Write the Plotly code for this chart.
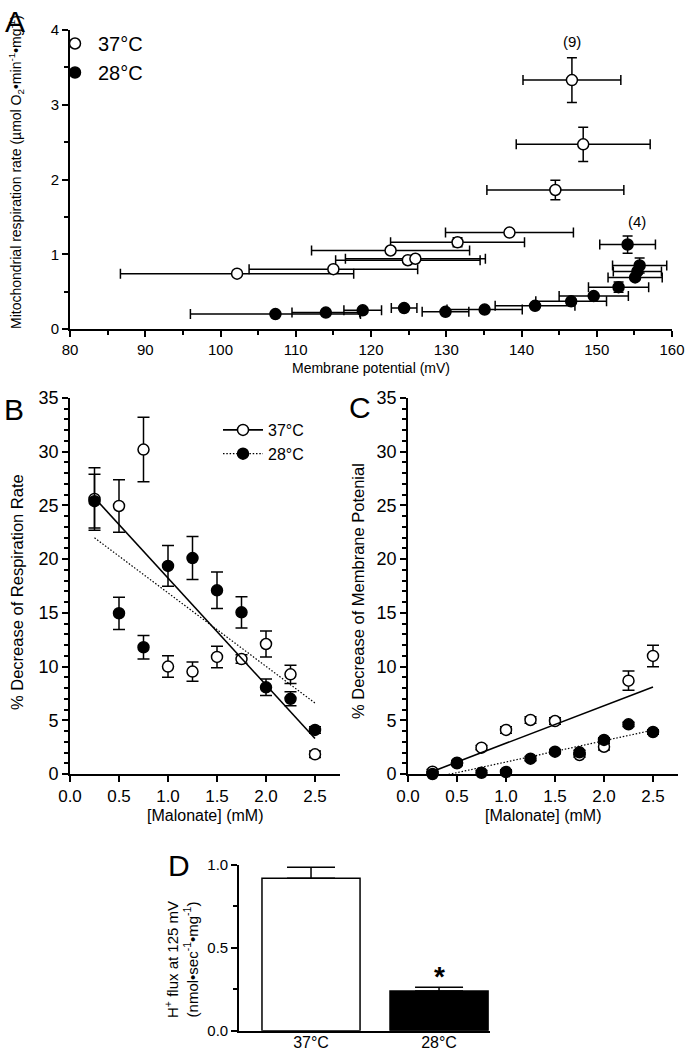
import numpy as np
import plotly.graph_objects as go

# ---------------- data ----------------
# Panel A: membrane potential (mV) vs respiration rate
mv_37 = [102.2, 115.0, 122.6, 124.9, 125.9, 131.5, 138.4, 144.5, 148.2, 146.7]
mv_37_sem = [15.5, 11.2, 10.5, 9.6, 9.3, 8.9, 8.5, 9.1, 8.9, 6.5]
rate_37 = [0.74, 0.80, 1.05, 0.92, 0.94, 1.16, 1.29, 1.86, 2.47, 3.33]
rate_37_sem = [0.03, 0.03, 0.03, 0.02, 0.02, 0.06, 0.03, 0.13, 0.23, 0.30]

mv_28 = [107.3, 114.0, 118.9, 124.4, 129.9, 135.1, 141.8, 146.6, 149.6, 152.9, 155.1, 155.4, 155.7, 154.1]
mv_28_sem = [11.3, 4.5, 2.5, 1.7, 3.1, 5.0, 5.3, 4.7, 4.6, 4.0, 3.6, 3.2, 3.6, 3.7]
rate_28 = [0.20, 0.22, 0.25, 0.28, 0.23, 0.26, 0.31, 0.37, 0.44, 0.56, 0.69, 0.77, 0.85, 1.13]
rate_28_sem = [0.02, 0.02, 0.02, 0.02, 0.02, 0.02, 0.03, 0.03, 0.03, 0.07, 0.03, 0.03, 0.10, 0.115]

n_labels = ["(9)", "(4)"]
n_label_x = [146.7, 155.4]
n_label_y = [3.84, 1.435]

# Panels B and C: malonate titration
malonate = [0.25, 0.5, 0.75, 1.0, 1.25, 1.5, 1.75, 2.0, 2.25, 2.5]
resp_37 = [25.6, 24.95, 30.2, 10.0, 9.53, 10.9, 10.7, 12.1, 9.28, 1.83]
resp_37_sem = [2.9, 2.45, 3.0, 1.0, 0.9, 1.0, 0.4, 1.2, 0.85, 0.3]
resp_28 = [25.4, 14.96, 11.8, 19.37, 20.1, 17.1, 15.05, 8.07, 7.0, 4.1]
resp_28_sem = [2.5, 1.5, 1.1, 1.9, 2.0, 1.7, 1.45, 0.77, 0.65, 0.3]

memb_37 = [0.22, 1.0, 2.45, 4.1, 5.03, 4.93, 1.77, 2.54, 8.69, 10.99]
memb_37_sem = [0.2, 0.2, 0.2, 0.3, 0.3, 0.3, 0.2, 0.3, 0.9, 1.0]
memb_28 = [0.0, 1.05, 0.12, 0.19, 1.43, 2.08, 2.02, 3.17, 4.62, 3.91]
memb_28_sem = [0.2, 0.2, 0.2, 0.2, 0.2, 0.2, 0.2, 0.2, 0.2, 0.2]

# Panel D: proton leak
temps = ["37°C", "28°C"]
flux = [0.92, 0.24]
flux_sem = [0.066, 0.022]

# ---------------- layout helpers ----------------
W, H = 685, 1050
FONT = "Liberation Sans, Arial, Helvetica, sans-serif"
DOT = "1.5px,1.8px"


def dx(a, b):
    return [a / W, b / W]


def dy(top, bottom):
    return [1 - bottom / H, 1 - top / H]


def px(x):
    return x / W


def py(y):
    return 1 - y / H


def axis(**kw):
    base = dict(showline=True, linecolor="black", linewidth=1.6, ticks="outside",
                tickcolor="black", tickwidth=1.5, ticklen=6, showgrid=False,
                zeroline=False, color="black", layer="below traces", automargin=False)
    base.update(kw)
    return base


def minor(dt):
    return dict(dtick=dt, ticks="outside", ticklen=4, tickwidth=1.5,
                tickcolor="black", showgrid=False)


OPEN = dict(symbol="circle", size=11, color="white", line=dict(color="black", width=1.5))
FILL = dict(symbol="circle", size=11, color="black", line=dict(color="black", width=1.5))


def err(arr, w):
    return dict(type="data", array=arr, color="black", thickness=1.5, width=w)


fig = go.Figure()

# ---- Panel A ----
fig.add_trace(go.Scatter(x=mv_37, y=rate_37, mode="markers", name="37°C", marker=OPEN,
                         error_x=err(mv_37_sem, 5), error_y=err(rate_37_sem, 5),
                         xaxis="x", yaxis="y", legend="legend", cliponaxis=False))
fig.add_trace(go.Scatter(x=mv_28, y=rate_28, mode="markers", name="28°C", marker=FILL,
                         error_x=err(mv_28_sem, 5), error_y=err(rate_28_sem, 5),
                         xaxis="x", yaxis="y", legend="legend", cliponaxis=False))

# ---- Panel B ----
xfit = np.array([malonate[0], malonate[-1]])
for ydata, ysem, mk in [(resp_37, resp_37_sem, OPEN), (resp_28, resp_28_sem, FILL)]:
    fig.add_trace(go.Scatter(x=malonate, y=ydata, mode="markers", marker=mk,
                             error_y=err(ysem, 6), xaxis="x2", yaxis="y2",
                             showlegend=False, cliponaxis=False))
for ydata, dash, w in [(resp_37, "solid", 1.6), (resp_28, DOT, 1.2)]:
    k, b = np.polyfit(malonate, ydata, 1)
    fig.add_trace(go.Scatter(x=xfit, y=k * xfit + b, mode="lines",
                             line=dict(color="black", width=w, dash=dash),
                             xaxis="x2", yaxis="y2", showlegend=False))
# legend entries for B
fig.add_trace(go.Scatter(x=[None], y=[None], mode="lines+markers", name="37°C",
                         marker=OPEN, line=dict(color="black", width=1.6),
                         xaxis="x2", yaxis="y2", legend="legend2"))
fig.add_trace(go.Scatter(x=[None], y=[None], mode="lines+markers", name="28°C",
                         marker=FILL, line=dict(color="black", width=1.2, dash=DOT),
                         xaxis="x2", yaxis="y2", legend="legend2"))

# ---- Panel C ----
for ydata, ysem, mk in [(memb_37, memb_37_sem, OPEN), (memb_28, memb_28_sem, FILL)]:
    fig.add_trace(go.Scatter(x=malonate, y=ydata, mode="markers", marker=mk,
                             error_y=err(ysem, 6), xaxis="x3", yaxis="y3",
                             showlegend=False, cliponaxis=False))
for ydata, dash, w in [(memb_37, "solid", 1.6), (memb_28, DOT, 1.2)]:
    k, b = np.polyfit(malonate, ydata, 1)
    fig.add_trace(go.Scatter(x=xfit, y=k * xfit + b, mode="lines",
                             line=dict(color="black", width=w, dash=dash),
                             xaxis="x3", yaxis="y3", showlegend=False))

# ---- Panel D ----
fig.add_trace(go.Bar(x=temps, y=flux, width=0.766,
                     marker=dict(color=["white", "black"], line=dict(color="black", width=1.5)),
                     error_y=dict(type="data", symmetric=False, array=flux_sem,
                                  arrayminus=[0, 0], color="black", thickness=1.5, width=24),
                     xaxis="x4", yaxis="y4", showlegend=False))

# ---------------- axes ----------------
fig.update_layout(
    width=W, height=H, margin=dict(l=0, r=0, t=0, b=0, autoexpand=False),
    paper_bgcolor="white", plot_bgcolor="white",
    font=dict(family=FONT, color="black"),
    xaxis=axis(domain=dx(70, 672), range=[80, 160], tick0=80, dtick=10, minor=minor(5),
               anchor="y", tickfont=dict(size=15)),
    yaxis=axis(domain=dy(30, 329), range=[0, 4], dtick=1, minor=minor(0.5),
               anchor="x", tickfont=dict(size=15)),
    xaxis2=axis(domain=dx(70, 339.5), range=[0, 2.75], tick0=0, dtick=0.5, tickformat=".1f",
                anchor="y2", tickfont=dict(size=17)),
    yaxis2=axis(domain=dy(398, 774), range=[0, 35], dtick=5, minor=minor(1),
                anchor="x2", tickfont=dict(size=18)),
    xaxis3=axis(domain=dx(408, 677.5), range=[0, 2.75], tick0=0, dtick=0.5, tickformat=".1f",
                anchor="y3", tickfont=dict(size=17)),
    yaxis3=axis(domain=dy(398, 774), range=[0, 35], dtick=5, minor=minor(1),
                anchor="x3", tickfont=dict(size=18)),
    xaxis4=axis(domain=dx(239, 490), range=[-0.5625, 1.398], ticks="", type="category",
                anchor="y4", tickfont=dict(size=16), ticklabelstandoff=-4),
    yaxis4=axis(domain=dy(865, 1030.7), range=[0, 1.0], dtick=0.5, tickformat=".1f",
                minor=minor(0.25), anchor="x4", tickfont=dict(size=15)),
    legend=dict(x=px(52), y=py(24), xanchor="left", yanchor="top", itemwidth=36,
                font=dict(size=20), bgcolor="rgba(0,0,0,0)", tracegroupgap=0),
    legend2=dict(x=px(218), y=py(413), xanchor="left", yanchor="top", itemwidth=40,
                 font=dict(size=16), bgcolor="rgba(0,0,0,0)", tracegroupgap=0),
)

ann = []


def pa(text, x, y, size, angle=0, **kw):
    d = dict(text=text, x=px(x), y=py(y), xref="paper", yref="paper", showarrow=False,
             font=dict(size=size, family=FONT, color="black"), textangle=angle,
             xanchor="center", yanchor="middle")
    d.update(kw)
    ann.append(d)


# panel letters
pa("A", 15, 22, 30)
pa("B", 14, 410, 30)
pa("C", 360, 407, 30)
pa("D", 179, 865, 30)

# axis titles
pa("Mitochondrial respiration rate (µmol O<sub>2</sub>•min<sup>-1</sup>•mg<sup>-1</sup>)",
   16, 172, 14, -90)
pa("Membrane potential (mV)", 371, 368, 14)
pa("% Decrease of Respiration Rate", 17, 592, 16.5, -90)
pa("[Malonate] (mM)", 204.75, 815, 16)
pa("% Decrease of Membrane Potenial", 358, 591, 16.5, -90)
pa("[Malonate] (mM)", 542.75, 815, 16)
pa("H<sup>+</sup> flux at 125 mV<br>(nmol•sec<sup>-1</sup>•mg<sup>-1</sup>)", 181, 960, 15, -90)

# n labels in panel A
for t, xv, yv in zip(n_labels, n_label_x, n_label_y):
    ann.append(dict(text=t, x=xv, y=yv, xref="x", yref="y", showarrow=False,
                    font=dict(size=15, family=FONT, color="black")))
# significance star in D
ann.append(dict(text="<b>*</b>", x=temps[1], y=0.33, xref="x4", yref="y4", showarrow=False,
                font=dict(size=28, family=FONT, color="black")))

fig.update_layout(annotations=ann)
fig.write_html("out.html", config={"displayModeBar": False},
               post_script="document.body.style.margin='0';document.body.style.overflow='hidden';")
